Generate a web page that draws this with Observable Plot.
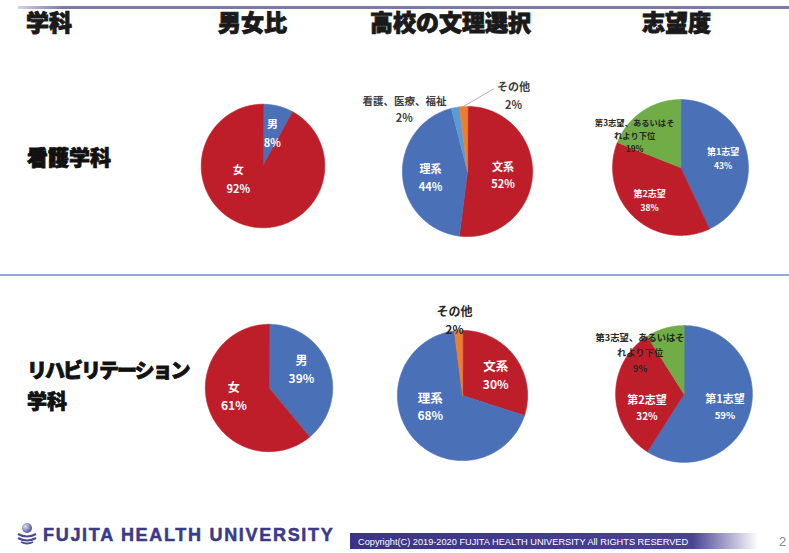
<!DOCTYPE html>
<html lang="ja">
<head>
<meta charset="utf-8">
<script src="https://cdn.jsdelivr.net/npm/d3@7"></script>
<script src="https://cdn.jsdelivr.net/npm/@observablehq/plot@0.6"></script>
<style>
html,body{margin:0;padding:0;background:#fff}
#slide{position:relative;width:789px;height:553px;overflow:hidden;background:#fff;font-family:"Noto Sans CJK JP","Noto Sans",sans-serif}
.abs{position:absolute;white-space:nowrap;line-height:1}
.head{font-size:23px;font-weight:900;color:#1a1a1a;top:10px;-webkit-text-stroke:0.9px #1a1a1a}
.dept{font-size:21px;font-weight:900;color:#111;-webkit-text-stroke:0.8px #111}
#topline{left:18px;top:6px;width:771px;height:3px;background:linear-gradient(to right,#d4d4e4 0,#7c7aa6 45px,#7c7aa6 100%)}
#sep{left:0;top:274px;width:789px;height:2px;background:#8eaad8}
#uni{left:43px;top:526px;font-family:"Liberation Sans",Arial,sans-serif;font-weight:700;font-size:18px;letter-spacing:1.7px;color:#3a3a8a;-webkit-text-stroke:0.5px #3a3a8a}
#bar{left:350px;top:533px;width:439px;height:16px;background:linear-gradient(to right,#3b3486 0,#4a4392 78%,#ffffff 93%)}
#copy{left:358px;top:537px;font-family:"Liberation Sans Narrow","Liberation Sans",sans-serif;font-size:9.5px;color:#fff;transform:scaleX(0.97);transform-origin:0 0}
#page{left:779px;top:535px;font-family:"Liberation Sans Narrow","Liberation Sans",sans-serif;font-size:13px;color:#8a8a8a}
.pie{position:absolute}
</style>
</head>
<body>
<div id="slide"></div>
<script>
// ---------------- data ----------------
const columnTitles = ["学科", "男女比", "高校の文理選択", "志望度"];
const deptNames = ["看護学科", "リハビリテーション", "学科"];

const genderCats = ["男", "女"];
const nursingGender = [8, 92];
const rehabGender = [39, 61];

const nursingCourseCats = ["文系", "理系", "看護、医療、福祉", "その他"];
const nursingCourse = [52, 44, 2, 2];
const rehabCourseCats = ["文系", "理系", "その他"];
const rehabCourse = [30, 68, 2];

const choiceCats = ["第1志望", "第2志望", "第3志望、あるいはそれより下位"];
const nursingChoice = [43, 38, 19];
const rehabChoice = [59, 32, 9];

const footerName = "FUJITA HEALTH UNIVERSITY";
const copyright = "Copyright(C) 2019-2020 FUJITA HEALTH UNIVERSITY  All RIGHTS RESERVED";
const pageNo = "2";

// ---------------- styles ----------------
const BLUE = "#4a70b8", RED = "#be1e2a", GREEN = "#70ad47", ORANGE = "#ed7d31", LBLUE = "#5b9bd5";
const catColor = {
  "男": BLUE, "女": RED,
  "文系": RED, "理系": BLUE, "看護、医療、福祉": LBLUE, "その他": ORANGE,
  "第1志望": BLUE, "第2志望": RED, "第3志望、あるいはそれより下位": GREEN
};
const TXT = {in: "#ffffff", dark: "#262626", out: "#404040"};

// layout of each pie (center, radius, label placement as angle/radius fraction)
const pies = [
  {cats: genderCats, values: nursingGender, cx: 262, cy: 165.5, R: 62,
   labels: [{a: 16.4, r: 0.54, size: 11, psize: 11, gap: 19, c: "in"},
            {a: 240.8, r: 0.46, size: 11, psize: 11, gap: 19, c: "in"}]},
  {cats: nursingCourseCats, values: nursingCourse, cx: 467, cy: 171, R: 65,
   labels: [{a: 97.7, r: 0.55, size: 11, psize: 11, gap: 17, c: "in"},
            {a: 258.8, r: 0.58, size: 11, psize: 11, gap: 18, c: "in"},
            {a: 314.3, r: 1.354, size: 10.5, psize: 11, gap: 17.5, c: "out"},
            {a: 31.5, r: 1.354, size: 11, psize: 11, gap: 17.5, c: "out"}],
   leader: {slice: 3, a: 17.5, r: 1.33}},
  {cats: choiceCats, values: nursingChoice, cx: 680, cy: 167, R: 68,
   labels: [{a: 79.2, r: 0.64, size: 9, psize: 8.5, gap: 14.5, c: "in"},
            {a: 222.8, r: 0.67, size: 9, psize: 8.5, gap: 14.5, c: "in"},
            {a: 304.6, r: 0.82, size: 8.3, psize: 8.3, gap: 13, c: "dark", wrap: 10}]},
  {cats: genderCats, values: rehabGender, cx: 268.5, cy: 387.5, R: 63.5,
   labels: [{a: 61.5, r: 0.58, size: 12, psize: 12, gap: 18.5, c: "in"},
            {a: 255.4, r: 0.57, size: 12, psize: 12, gap: 18.5, c: "in"}]},
  {cats: rehabCourseCats, values: rehabCourse, cx: 462, cy: 394.5, R: 65,
   labels: [{a: 59.7, r: 0.59, size: 12.5, psize: 12, gap: 18.5, c: "in"},
            {a: 249.1, r: 0.53, size: 12.5, psize: 12, gap: 17, c: "in"},
            {a: 353.9, r: 1.15, size: 12, psize: 11.5, gap: 18.5, c: "dark"}]},
  {cats: choiceCats, values: rehabChoice, cx: 683.5, cy: 393.5, R: 68.5,
   labels: [{a: 108.2, r: 0.63, size: 11, psize: 9.5, gap: 16.5, c: "in"},
            {a: 248.7, r: 0.58, size: 11, psize: 10, gap: 16.5, c: "in"},
            {a: 312.8, r: 0.875, size: 9.3, psize: 9, gap: 15.5, c: "dark", wrap: 10}]}
];

// ---------------- slide chrome ----------------
const slide = document.getElementById("slide");
function addDiv(cls, id, text, left, top) {
  const d = document.createElement("div");
  d.className = "abs " + (cls || "");
  if (id) d.id = id;
  if (text != null) d.textContent = text;
  if (left != null) d.style.left = left + "px";
  if (top != null) d.style.top = top + "px";
  slide.appendChild(d);
  return d;
}
addDiv("", "topline");
const headLefts = [26, 218, 370, 642];
columnTitles.forEach((t, i) => addDiv("head", null, t, headLefts[i], null));
addDiv("dept", null, deptNames[0], 27, 146);
const rl = addDiv("dept", null, deptNames[1], 27, 360); rl.style.fontSize = "20px"; rl.style.letterSpacing = "-2px";
const rl2 = addDiv("dept", null, deptNames[2], 27, 391); rl2.style.fontSize = "20px";
addDiv("", "sep");
addDiv("", "bar");
addDiv("", "uni", footerName);
addDiv("", "copy", copyright);
addDiv("", "page", pageNo);
// logo
const logo = document.createElementNS("http://www.w3.org/2000/svg", "svg");
logo.setAttribute("width", 24); logo.setAttribute("height", 24);
logo.style.position = "absolute"; logo.style.left = "15px"; logo.style.top = "521px";
logo.innerHTML = `<defs><radialGradient id="lg" cx="0.35" cy="0.35" r="0.7"><stop offset="0" stop-color="#e0e0f4"/><stop offset="1" stop-color="#4a4a9a"/></radialGradient></defs>
<circle cx="12" cy="7" r="5" fill="url(#lg)"/>
<path d="M3 13 Q12 18 21 13" stroke="#4a4a9a" stroke-width="2.2" fill="none"/>
<path d="M3 17 Q12 22 21 17" stroke="#4a4a9a" stroke-width="2.2" fill="none"/>
<path d="M6 21 Q12 24 18 21" stroke="#4a4a9a" stroke-width="1.8" fill="none"/>`;
slide.appendChild(logo);

// ---------------- pies ----------------
const deg = Math.PI / 180;
function drawPie(p) {
  const arcs = d3.pie().sort(null)(p.values);
  const sliceRows = arcs.flatMap((a, i) => {
    const cat = p.cats[i];
    const n = Math.max(2, Math.ceil((a.endAngle - a.startAngle) / deg));
    const pts = [{slice: cat, x: 0, y: 0}];
    for (let k = 0; k <= n; k++) {
      const t = a.startAngle + (a.endAngle - a.startAngle) * k / n;
      pts.push({slice: cat, x: Math.sin(t), y: Math.cos(t)});
    }
    return pts;
  });
  // label rows
  const textRows = [];
  p.labels.forEach((L, i) => {
    const name = p.cats[i];
    const nameLines = L.wrap ? [name.slice(0, L.wrap), name.slice(L.wrap)] : [name];
    const lines = nameLines.map(t => ({t, size: L.size})).concat([{t: p.values[i] + "%", size: L.psize}]);
    const bx = Math.sin(L.a * deg) * L.r, by = Math.cos(L.a * deg) * L.r;
    lines.forEach((ln, j) => {
      const off = (j - (lines.length - 1) / 2) * L.gap / p.R;
      textRows.push({x: bx, y: by - off, text: ln.t, size: ln.size, color: TXT[L.c]});
    });
  });
  const k = 1.06;
  const S = Math.round(2 * p.R * k);
  const marks = [
    Plot.line(sliceRows, {x: "x", y: "y", z: "slice", fill: "slice", stroke: "slice", strokeWidth: 0.6, curve: "linear-closed"})
  ];
  if (p.leader) {
    const a = arcs[p.leader.slice];
    const mid = (a.startAngle + a.endAngle) / 2;
    const leaderRows = [
      {x: Math.sin(mid), y: Math.cos(mid)},
      {x: Math.sin(p.leader.a * deg) * p.leader.r, y: Math.cos(p.leader.a * deg) * p.leader.r}
    ];
    marks.push(Plot.line(leaderRows, {x: "x", y: "y", stroke: "#a6a6a6", strokeWidth: 0.9}));
  }
  for (const [key, rows] of d3.groups(textRows, d => d.color + "|" + d.size)) {
    marks.push(Plot.text(rows, {x: "x", y: "y", text: "text", fill: rows[0].color, fontSize: rows[0].size,
      fontWeight: "bold", textAnchor: "middle", lineAnchor: "middle"}));
  }
  const svg = Plot.plot({
    width: S, height: S, margin: 0,
    x: {domain: [-k, k], axis: null},
    y: {domain: [-k, k], axis: null},
    color: {domain: Object.keys(catColor), range: Object.values(catColor)},
    style: {background: "transparent", overflow: "visible", fontFamily: "'Noto Sans CJK JP', 'Noto Sans', sans-serif"},
    marks
  });
  const holder = document.createElement("div");
  holder.className = "pie";
  holder.style.left = (p.cx - S / 2) + "px";
  holder.style.top = (p.cy - S / 2) + "px";
  holder.style.width = S + "px";
  holder.style.height = S + "px";
  holder.appendChild(svg);
  slide.appendChild(holder);
}
pies.forEach(drawPie);
</script>
</body>
</html>
